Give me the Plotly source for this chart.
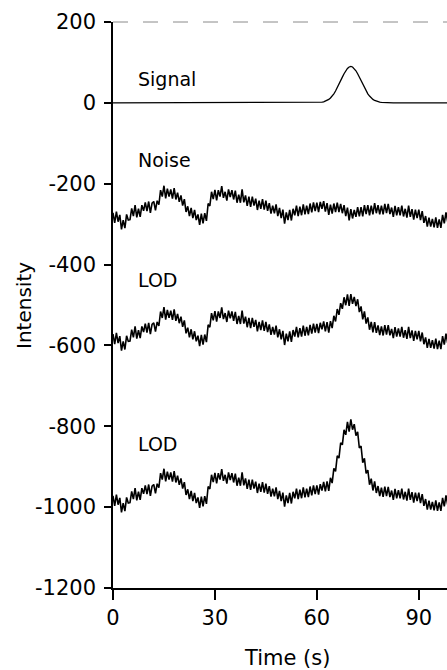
import plotly.graph_objects as go

# ---- data ----
time_s = [i * 0.5 for i in range(198)]  # 0 .. 98.5 s

noise = [
    -272, -297, -269, -294, -277, -313, -290, -310, -276, -290,
    -289, -261, -280, -253, -283, -262, -282, -253, -267, -246,
    -268, -244, -272, -248, -244, -266, -242, -252, -216, -232,
    -205, -236, -212, -232, -214, -237, -211, -239, -222, -245,
    -229, -254, -238, -270, -256, -280, -260, -285, -265, -290,
    -276, -302, -274, -298, -273, -292, -249, -255, -220, -238,
    -215, -241, -216, -232, -206, -235, -220, -242, -214, -233,
    -216, -239, -217, -247, -227, -247, -214, -246, -229, -255,
    -232, -257, -232, -254, -237, -265, -242, -262, -238, -264,
    -242, -267, -248, -274, -254, -273, -251, -280, -260, -285,
    -264, -299, -271, -290, -265, -291, -262, -278, -254, -280,
    -257, -278, -251, -276, -254, -275, -249, -271, -246, -268,
    -247, -270, -245, -262, -243, -269, -248, -277, -252, -274,
    -249, -270, -247, -270, -250, -273, -253, -280, -259, -291,
    -263, -286, -265, -282, -258, -281, -258, -281, -253, -275,
    -253, -278, -254, -276, -248, -273, -253, -276, -254, -276,
    -250, -273, -250, -275, -259, -282, -255, -278, -258, -278,
    -254, -281, -262, -284, -254, -282, -263, -289, -264, -285,
    -264, -290, -268, -297, -280, -306, -284, -306, -287, -308,
    -283, -309, -288, -309, -277, -298, -271, -294,
]

signal_peak = [
    0.3, 0.6, 1.0, 1.6, 2.6, 4.0, 5.9, 8.6, 12.2, 16.8, 22.4, 29.2, 37.0,
    45.6, 54.6, 63.6, 72.1, 79.4, 85.1, 88.8, 90.0, 88.8, 85.1, 79.4, 72.1,
    63.6, 54.6, 45.6, 37.0, 29.2, 22.4, 16.8, 12.2, 8.6, 5.9, 4.0, 2.6, 1.6,
    1.0, 0.6, 0.3,
]
signal = [0.0] * 120 + signal_peak + [0.0] * 37

# vertical offsets of the stacked traces and signal multipliers
lod1_offset, lod1_gain = -300, 1
lod2_offset, lod2_gain = -700, 2

lod1 = [n + lod1_offset + lod1_gain * s for n, s in zip(noise, signal)]
lod2 = [n + lod2_offset + lod2_gain * s for n, s in zip(noise, signal)]

y_ticks = [-1200, -1000, -800, -600, -400, -200, 0, 200]
y_tick_text = ["-1200", "-1000", "-800", "-600", "-400", "-200", "0", "200"]
x_ticks = [0, 30, 60, 90]
x_tick_text = ["0", "30", "60", "90"]

labels = ["Signal", "Noise", "LOD", "LOD"]
label_y = [59, -141, -438, -843]
label_x = 6.8

FONT = "DejaVu Sans"

fig = go.Figure()
for yy, w in [(signal, 1.3), (noise, 1.6), (lod1, 1.6), (lod2, 1.6)]:
    fig.add_trace(go.Scatter(x=time_s, y=yy, mode="lines",
                             line=dict(color="black", width=w),
                             showlegend=False, hoverinfo="skip"))

for txt, yv in zip(labels, label_y):
    fig.add_annotation(x=label_x, y=yv, xref="x", yref="y", text=txt,
                       showarrow=False, xanchor="left", yanchor="middle",
                       font=dict(family=FONT, size=19, color="black"))

fig.add_annotation(x=0.521, y=-0.124, xref="paper", yref="paper",
                   text="Time (s)", showarrow=False, xanchor="center",
                   yanchor="middle", font=dict(family=FONT, size=21, color="black"))
fig.add_annotation(x=-0.2665, y=0.5, xref="paper", yref="paper",
                   text="Intensity", showarrow=False, textangle=-90,
                   xanchor="center", yanchor="middle",
                   font=dict(family=FONT, size=20, color="black"))

# faint top frame line
fig.add_shape(type="line", xref="paper", yref="paper", x0=0, x1=1, y0=1, y1=1,
              line=dict(color="#8a8a8a", width=1, dash="longdash"))

fig.update_layout(
    width=447, height=670,
    margin=dict(l=113, r=0, t=22, b=82),
    paper_bgcolor="white", plot_bgcolor="white",
    font=dict(family=FONT, color="black"),
)
fig.update_xaxes(range=[0, 98.3], tickvals=x_ticks, ticktext=x_tick_text,
                 showgrid=False, zeroline=False, showline=True,
                 linecolor="black", linewidth=1.5, ticks="outside",
                 ticklen=10, tickwidth=1.5, tickcolor="black",
                 tickfont=dict(family=FONT, size=21, color="black"))
fig.update_yaxes(range=[-1200, 200], tickvals=y_ticks, ticktext=y_tick_text,
                 showgrid=False, zeroline=False, showline=True,
                 linecolor="black", linewidth=1.5, ticks="outside",
                 ticklen=7, tickwidth=1.5, tickcolor="black",
                 ticklabelstandoff=4,
                 tickfont=dict(family=FONT, size=21, color="black"))

fig.write_html(
    "out.html",
    config={"displayModeBar": False},
    post_script="document.body.style.margin='0';document.body.style.overflow='hidden';",
)
